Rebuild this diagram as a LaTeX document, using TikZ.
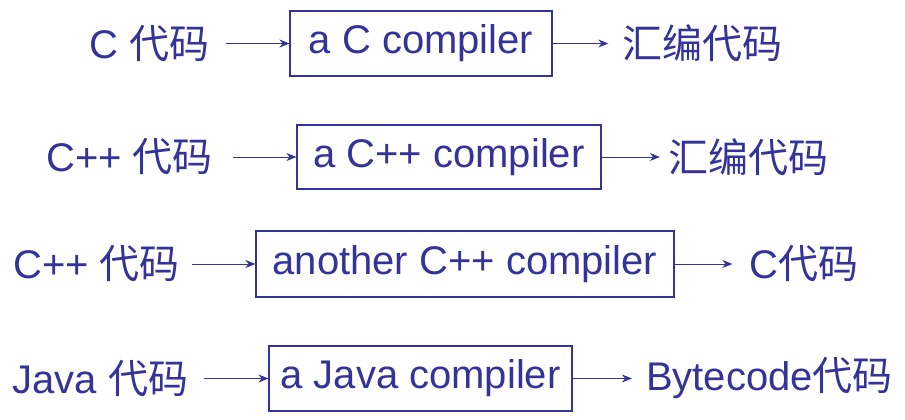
\documentclass[tikz,border=0pt]{standalone}
\usepackage{fontspec}
\setmainfont{Liberation Sans}
\newfontfamily\cjk{Noto Sans CJK SC}
\newcommand{\zh}[1]{{\cjk #1}}
\usetikzlibrary{arrows.meta}
\definecolor{ink}{HTML}{333399}
\begin{document}
\begin{tikzpicture}[x=1pt,y=-1pt,
  every node/.style={text=ink, font=\fontsize{40}{46}\selectfont},
  lbl/.style={inner sep=0pt, anchor=center},
  cbox/.style={draw=ink, line width=1.2pt, inner sep=0pt, anchor=center},
  arr/.style={draw=ink, line width=0.8pt, -{Stealth[length=10pt,width=8pt]}}]
\useasboundingbox (0,0) rectangle (905,420);
% row 1
\node[lbl] (l1) at (149,43.5) {C \zh{代码}};
\node[cbox, minimum width=262pt, minimum height=65pt] (b1) at (421,43.5) {a C compiler};
\node[lbl] (r1) at (702.5,43.5) {\zh{汇编代码}};
\draw[arr, shorten <=17pt] (l1.east) -- (b1.west);
\draw[arr, shorten >=14pt] (b1.east) -- (r1.west);
% row 2
\node[lbl] (l2) at (129.5,157) {C++ \zh{代码}};
\node[cbox, minimum width=304pt, minimum height=64pt] (b2) at (449,157) {a C++ compiler};
\node[lbl] (r2) at (748,157) {\zh{汇编代码}};
\draw[arr, shorten <=20pt] (l2.east) -- (b2.west);
\draw[arr, shorten >=8pt] (b2.east) -- (r2.west);
% row 3
\node[lbl] (l3) at (96.5,264) {C++ \zh{代码}};
\node[cbox, minimum width=418pt, minimum height=66pt] (b3) at (465,264) {another C++ compiler};
\node[lbl] (r3) at (804,264) {C\zh{代码}};
\draw[arr, shorten <=12pt] (l3.east) -- (b3.west);
\draw[arr, shorten >=17pt] (b3.east) -- (r3.west);
% row 4
\node[lbl] (l4) at (100.5,378.5) {Java \zh{代码}};
\node[cbox, minimum width=303pt, minimum height=65pt] (b4) at (420.5,378.5) {a Java compiler};
\node[lbl] (r4) at (769.5,378.5) {Bytecode\zh{代码}};
\draw[arr, shorten <=15pt] (l4.east) -- (b4.west);
\draw[arr, shorten >=14pt] (b4.east) -- (r4.west);
\end{tikzpicture}
\end{document}
